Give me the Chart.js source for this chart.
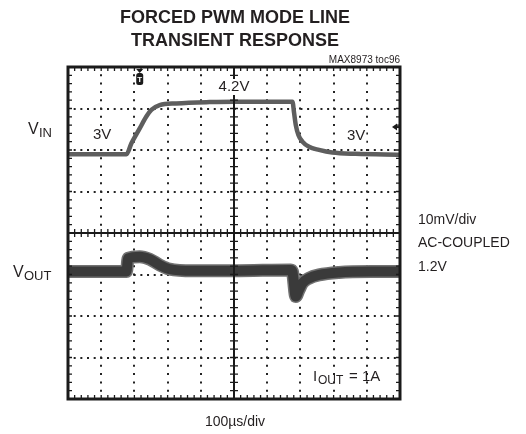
<!DOCTYPE html>
<html>
<head>
<meta charset="utf-8">
<script src="https://cdn.jsdelivr.net/npm/chart.js@4.4.1/dist/chart.umd.min.js"></script>
<style>
  html, body { margin: 0; padding: 0; background: #fff; }
  #wrap { width: 526px; height: 434px; }
</style>
</head>
<body>
<div id="wrap"><canvas id="scope" width="526" height="434"></canvas></div>
<script>
// time in microseconds, 100us/div over 10 divisions
const vinTime  = [0, 176, 191, 216, 236, 251, 276, 326, 426, 501, 600, 676, 681, 686, 694, 706, 726, 756, 796, 866, 1000];
const vinVolts = [3.0, 3.0, 3.25, 3.59, 3.86, 4.01, 4.12, 4.16, 4.19, 4.2, 4.2, 4.2, 3.94, 3.67, 3.44, 3.29, 3.17, 3.10, 3.04, 3.01, 2.99];

// output deviation around 1.2V, in mV (AC-coupled, 10mV/div)
const voutTime = [0, 176, 181, 216, 246, 276, 306, 376, 501, 671, 676, 686, 696, 706, 726, 756, 816, 916, 1000];
const voutMv   = [0, 0, 3.2, 3.6, 3.0, 1.6, 0.6, 0.2, 0.2, 0.4, 0, -6.0, -4.4, -2.8, -1.6, -0.8, -0.2, 0, 0];

const triggerTime = 216;   // us
const triggerLevel = 3.62; // V

const FONT = "'Liberation Sans', Arial, sans-serif";

const toPoints = (xs, ys) => xs.map((t, i) => ({ x: t, y: ys[i] }));

// text with a white box behind it, so grid lines don't cross it
function boxedText(ctx, txt, x, y) {
  const w = ctx.measureText(txt).width;
  ctx.save();
  ctx.fillStyle = '#fff';
  const left = ctx.textAlign === 'center' ? x - w / 2 : x;
  ctx.fillRect(left - 1, y - 8, w + 2, 16);
  ctx.restore();
  ctx.fillText(txt, x, y);
}

// draws the scope frame, centre graticule and the labels
const scopeDecor = {
  id: 'scopeDecor',
  afterDraw(chart) {
    const { ctx, chartArea: a, scales } = chart;
    const x = scales.x, d = scales.div;
    const cx = x.getPixelForValue(500), cy = d.getPixelForValue(4);
    ctx.save();
    ctx.strokeStyle = '#1a1a1a';
    ctx.lineWidth = 2;
    ctx.beginPath();
    ctx.moveTo(cx, a.top); ctx.lineTo(cx, a.bottom);
    ctx.moveTo(a.left, cy); ctx.lineTo(a.right, cy);
    ctx.stroke();

    ctx.lineWidth = 1.3;
    ctx.beginPath();
    for (let t = 0; t <= 1000; t += 20) {
      const px = x.getPixelForValue(t);
      ctx.moveTo(px, cy - 4); ctx.lineTo(px, cy + 4);
      ctx.moveTo(px, a.top); ctx.lineTo(px, a.top + 4);
      ctx.moveTo(px, a.bottom); ctx.lineTo(px, a.bottom - 4);
    }
    for (let i = 0; i <= 40; i++) {
      const py = d.getPixelForValue(i / 5);
      ctx.moveTo(cx - 4, py); ctx.lineTo(cx + 4, py);
      ctx.moveTo(a.left, py); ctx.lineTo(a.left + 4, py);
      ctx.moveTo(a.right, py); ctx.lineTo(a.right - 4, py);
    }
    ctx.stroke();

    ctx.lineWidth = 3;
    ctx.strokeRect(a.left, a.top, a.right - a.left, a.bottom - a.top);

    // trigger marker
    const tx = x.getPixelForValue(triggerTime);
    ctx.fillStyle = '#1a1a1a';
    ctx.beginPath();
    ctx.moveTo(tx - 3.5, a.top + 2); ctx.lineTo(tx + 3.5, a.top + 2); ctx.lineTo(tx, a.top + 6);
    ctx.closePath(); ctx.fill();
    ctx.beginPath();
    ctx.roundRect(tx - 3.5, a.top + 6, 7, 12, 2.5);
    ctx.fill();
    ctx.fillStyle = '#fff';
    ctx.font = 'bold 8px ' + FONT;
    ctx.textAlign = 'center'; ctx.textBaseline = 'middle';
    ctx.fillText('T', tx, a.top + 12.5);

    // trigger level marker
    const ly = scales.y.getPixelForValue(triggerLevel);
    ctx.fillStyle = '#1a1a1a';
    ctx.beginPath();
    ctx.moveTo(a.right - 8, ly); ctx.lineTo(a.right - 3, ly - 3.5); ctx.lineTo(a.right - 3, ly + 3.5);
    ctx.closePath(); ctx.fill();
    ctx.fillRect(a.right - 4, ly - 1, 3, 2);

    // text
    ctx.fillStyle = '#231f20';
    ctx.textAlign = 'center'; ctx.textBaseline = 'middle';
    ctx.font = 'bold 18px ' + FONT;
    ctx.fillText('FORCED PWM MODE LINE', 235, 18);
    ctx.fillText('TRANSIENT RESPONSE', 235, 41);

    ctx.font = '15px ' + FONT;
    boxedText(ctx, '4.2V', 234, 87);
    ctx.textAlign = 'left';
    boxedText(ctx, '3V', 93, 135);
    boxedText(ctx, '3V', 347, 136);

    ctx.textAlign = 'right'; ctx.textBaseline = 'alphabetic';
    ctx.font = '10px ' + FONT;
    ctx.fillText('MAX8973 toc96', a.right, 63);

    ctx.textAlign = 'left';
    ctx.font = '16px ' + FONT;
    ctx.fillText('V', 28, 134);
    ctx.fillText('V', 13, 277);
    ctx.font = '13px ' + FONT;
    ctx.fillText('IN', 39, 137);
    ctx.fillText('OUT', 24, 280);

    ctx.font = '15px ' + FONT;
    ctx.fillText('I', 313, 381);
    ctx.font = '12px ' + FONT;
    ctx.fillText('OUT', 318, 384);
    ctx.font = '15px ' + FONT;
    ctx.fillText('= 1A', 349, 381);

    ctx.font = '14px ' + FONT;
    ctx.textBaseline = 'middle';
    ctx.fillText('10mV/div', 418, 220);
    ctx.fillText('AC-COUPLED', 418, 243);
    ctx.fillText('1.2V', 418, 267);

    ctx.textAlign = 'center';
    ctx.fillText('100\u00b5s/div', 235, 422);
    ctx.restore();
  }
};

const hideAt = (vals) => (c) => (c.tick && vals.includes(c.tick.value)) ? 'rgba(0,0,0,0)' : '#222';

new Chart(document.getElementById('scope'), {
  type: 'line',
  data: {
    datasets: [
      { label: 'VOUT halo', data: toPoints(voutTime, voutMv), yAxisID: 'y2', borderColor: '#727272', borderWidth: 13, order: 3 },
      { label: 'VOUT', data: toPoints(voutTime, voutMv), yAxisID: 'y2', borderColor: '#3a3a3a', borderWidth: 10, order: 2 },
      { label: 'VIN', data: toPoints(vinTime, vinVolts), yAxisID: 'y', borderColor: '#5e5e5e', borderWidth: 4.5, order: 1 }
    ]
  },
  options: {
    responsive: false,
    animation: false,
    events: [],
    layout: { padding: { left: 68, right: 126, top: 67, bottom: 35 } },
    elements: {
      point: { radius: 0 },
      line: { cubicInterpolationMode: 'monotone', borderCapStyle: 'round', borderJoinStyle: 'round' }
    },
    plugins: { legend: { display: false }, tooltip: { enabled: false }, title: { display: false } },
    scales: {
      x: {
        type: 'linear', min: 0, max: 1000,
        ticks: { display: false, stepSize: 100 },
        grid: { drawTicks: false, lineWidth: 2, color: hideAt([0, 500, 1000]) },
        border: { display: false, dash: [2, 6.3], dashOffset: 1 }
      },
      div: {
        type: 'linear', position: 'left', min: 0, max: 8,
        ticks: { display: false, stepSize: 1 },
        grid: { drawTicks: false, lineWidth: 2, color: hideAt([0, 4, 8]) },
        border: { display: false, dash: [2, 4.67], dashOffset: 1 }
      },
      y: { display: false, min: -2.58, max: 4.99 },
      y2: { display: false, min: -30.7, max: 49.3 }
    }
  },
  plugins: [scopeDecor]
});
</script>
</body>
</html>
